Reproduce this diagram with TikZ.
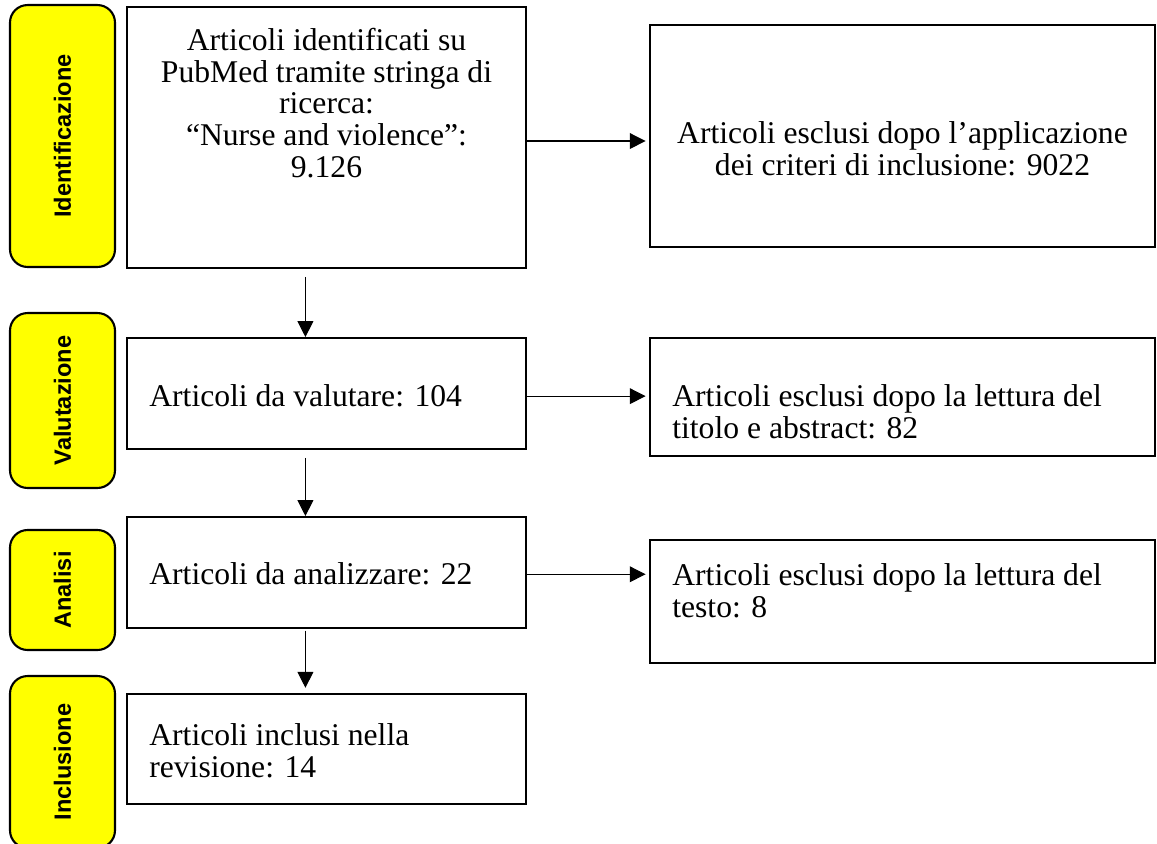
\documentclass[tikz,border=0pt]{standalone}
\usepackage{fontspec}
\setmainfont{Liberation Serif}
\newfontfamily\phasefont{Liberation Sans}
\usetikzlibrary{arrows.meta}
\definecolor{phaseYellow}{RGB}{255,255,0}
\tikzstyle{phaseStyle}=[shape = rectangle, rounded corners = 10pt, draw, line width = 1.2pt, fill = phaseYellow, minimum height = 2.1cm, rotate = 90, font = \phasefont\bfseries\fontsize{13.4}{16}\selectfont]
\tikzstyle{boxStyle}=[shape = rectangle, draw, line width = 1.1pt]
\tikzstyle{textStyle}=[inner sep = 0pt, font = \fontsize{18}{18}\selectfont]

\begin{document}
\begin{tikzpicture}[x = 0.02cm, y = -0.02cm]
\tikzstyle{arrowStyle}=[-{Triangle[length = 9pt, width = 9pt]}, line width = 0.6pt]
\useasboundingbox (0,0) rectangle (1157,843);
% phases
\node[phaseStyle, minimum width = 5.24cm] (p1) at (62.5,136) {Identificazione};
\node[phaseStyle, minimum width = 3.5cm] (p2) at (62.5,400.5) {Valutazione};
\node[phaseStyle, minimum width = 2.4cm] (p3) at (62.5,590) {Analisi};
\node[phaseStyle, minimum width = 3.44cm] (p4) at (62.5,762) {Inclusione};
% main column
\node[boxStyle, minimum width = 7.98cm, minimum height = 5.22cm] (box1) at (326.5,137.5) {};
\node[boxStyle, minimum width = 7.98cm, minimum height = 2.22cm] (box2) at (326.5,393.5) {};
\node[boxStyle, minimum width = 7.98cm, minimum height = 2.22cm] (box3) at (326.5,572.5) {};
\node[boxStyle, minimum width = 7.98cm, minimum height = 2.2cm] (box4) at (326.5,749) {};
% excluded
\node[boxStyle, minimum width = 10.1cm, minimum height = 4.44cm] (excl1) at (902.5,136) {};
\node[boxStyle, minimum width = 10.1cm, minimum height = 2.36cm] (excl2) at (902.5,397) {};
\node[boxStyle, minimum width = 10.1cm, minimum height = 2.46cm] (excl3) at (902.5,601.5) {};
% texts
\node[textStyle, align = center] (t1) at (326.5,103) {Articoli identificati su\\PubMed tramite stringa di\\ricerca:\\“Nurse and violence”:\\9.126};
\node[textStyle, anchor = west] (t2) at (149,396) {Articoli da valutare: 104};
\node[textStyle, anchor = west] (t3) at (149,574) {Articoli da analizzare: 22};
\node[textStyle, anchor = west, align = left] (t4) at (149,751) {Articoli inclusi nella\\revisione: 14};
\node[textStyle, align = center] (e1) at (902.5,148.5) {Articoli esclusi dopo l’applicazione\\dei criteri di inclusione: 9022};
\node[textStyle, anchor = west, align = left] (e2) at (672,412) {Articoli esclusi dopo la lettura del\\titolo e abstract: 82};
\node[textStyle, anchor = west, align = left] (e3) at (672,591) {Articoli esclusi dopo la lettura del\\testo: 8};
% arrows
\draw[arrowStyle, shorten >= 2pt] ([yshift = -2pt]box1.east) -- ([yshift = -2pt]box1.east -| excl1.west);
\draw[arrowStyle, shorten >= 2pt] ([yshift = -1.5pt]box2.east) -- ([yshift = -1.5pt]box2.east -| excl2.west);
\draw[arrowStyle, shorten >= 2pt] ([yshift = -1pt]box3.east) -- ([yshift = -1pt]box3.east -| excl3.west);
\draw[arrowStyle] ([xshift = -12pt, yshift = -4.5pt]box1.south) -- ([xshift = -12pt]box2.north);
\draw[arrowStyle] ([xshift = -12pt, yshift = -4.5pt]box2.south) -- ([xshift = -12pt]box3.north);
\draw[arrowStyle] ([xshift = -12pt, yshift = -1pt]box3.south) -- ([xshift = -12pt, yshift = 3pt]box4.north);
\end{tikzpicture}
\end{document}
